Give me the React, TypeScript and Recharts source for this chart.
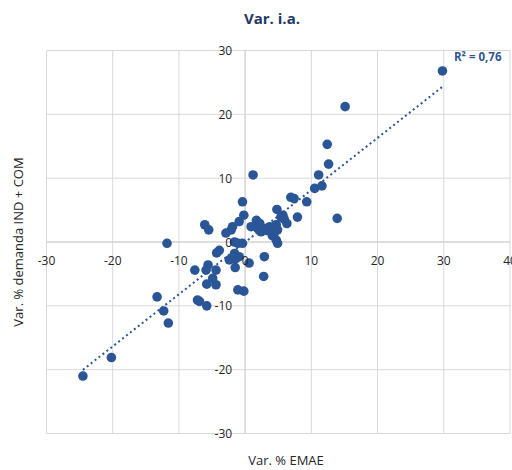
import React from "react";
import { ScatterChart, Scatter, XAxis, YAxis, CartesianGrid, ReferenceLine } from "recharts";

const emaeVar: number[] = [
  -24.5, -20.2, -13.3, -12.3, -11.6, -11.8, -7.6, -7.2, -6.9, -5.8,
  -6.1, -5.5, -5.6, -5.9, -4.4, -4.9, -5.8, -4.4, -3.9, -4.3,
  -2.9, -2.1, -1.9, -0.9, -0.2, -0.4, -1.6, -1.1, -0.4, -1.6,
  -0.9, -1.4, -1.9, -2.4, -1.5, 0.6, -1.1, -0.2, 2.8, 2.9,
  1.2, 1.7, 2.2, 0.9, 1.9, 2.9, 3.7, 3.9, 4.7, 4.9,
  4.4, 4.7, 4.9, 4.8, 5.4, 5.7, 5.9, 6.3, 7.9, 6.9,
  7.4, 9.3, 10.5, 11.6, 11.1, 12.6, 12.4, 15.1, 13.9, 29.8,
  2.4, 3.3, 4.1,
];
const demandVar: number[] = [
  -21.0, -18.1, -8.6, -10.8, -12.7, -0.2, -4.4, -9.1, -9.3, -10.0,
  2.7, 1.9, -3.6, -4.4, -4.4, -5.7, -6.6, -6.7, -1.3, -1.7,
  1.4, 1.9, 2.4, 3.2, 4.2, 6.3, 0.0, -0.2, -0.2, -1.8,
  -2.3, -2.6, -2.6, -2.8, -4.0, -3.3, -7.5, -7.7, -5.4, -2.3,
  10.5, 3.4, 2.9, 2.4, 2.1, 2.1, 2.4, 1.9, 2.7, 1.9,
  1.4, 0.3, -0.2, 5.1, 3.9, 4.2, 3.6, 2.9, 3.9, 7.0,
  6.8, 6.3, 8.4, 8.8, 10.5, 12.2, 15.3, 21.2, 3.7, 26.8,
  1.6, 1.8, 1.0,
];
const xTicks: number[] = [-30, -20, -10, 0, 10, 20, 30, 40];
const yTicks: number[] = [-30, -20, -10, 0, 10, 20, 30];
const titleText = "Var. i.a.";
const xLabel = "Var. % EMAE";
const yLabel = "Var. % demanda IND + COM";
const r2Label = "R² = 0,76";

const data = emaeVar.map((x, i) => ({ x, y: demandVar[i] }));

// least-squares linear trendline from the data
const n = emaeVar.length;
const mx = emaeVar.reduce((a, b) => a + b, 0) / n;
const my = demandVar.reduce((a, b) => a + b, 0) / n;
let sxy = 0;
let sxx = 0;
for (let i = 0; i < n; i++) {
  sxy += (emaeVar[i] - mx) * (demandVar[i] - my);
  sxx += (emaeVar[i] - mx) * (emaeVar[i] - mx);
}
const slope = sxy / sxx;
const intercept = my - slope * mx;
const xMin = Math.min(...emaeVar);
const xMax = Math.max(...emaeVar);

const W = 512;
const H = 470;
const Y_AXIS_W = 40;
const X_AXIS_H = 30;
const M = { top: 50.5, right: 2, bottom: 6.5, left: 6.5 };
const PLOT_LEFT = M.left + Y_AXIS_W;
const PLOT_TOP = M.top;
const PW = W - PLOT_LEFT - M.right;
const PH = H - M.top - M.bottom - X_AXIS_H;
const zeroX = PLOT_LEFT + PW * (30 / 70);
const zeroY = PLOT_TOP + PH / 2;

const FONT = "'Open Sans', 'Liberation Sans', sans-serif";
const DOT = "#2a5597";

const XTick = (props: any) => {
  const { x, payload } = props;
  return (
    <text x={x} y={zeroY + 18} textAnchor="middle" dominantBaseline="central" fontSize={12} fontFamily={FONT} fill="#262626">
      {payload.value}
    </text>
  );
};

const YTick = (props: any) => {
  const { y, payload } = props;
  return (
    <text x={zeroX - 13} y={y} textAnchor="end" dominantBaseline="central" fontSize={12} fontFamily={FONT} fill="#262626">
      {payload.value}
    </text>
  );
};

const Dot = (props: any) => {
  const { cx, cy } = props;
  if (cx == null || cy == null) return null;
  return <circle cx={cx} cy={cy} r={4.8} fill={DOT} />;
};

export default function App() {
  return (
    <div style={{ position: "absolute", left: 0, top: 0, width: W, height: H, background: "#fff" }}>
      <ScatterChart width={W} height={H} margin={M}>
        <CartesianGrid stroke="#d9d9d9" strokeWidth={1} />
        <XAxis
          type="number"
          dataKey="x"
          domain={[-30, 40]}
          ticks={xTicks}
          allowDataOverflow
          height={X_AXIS_H}
          axisLine={false}
          tickLine={false}
          tick={XTick}
          interval={0}
        />
        <YAxis
          type="number"
          dataKey="y"
          domain={[-30, 30]}
          ticks={yTicks}
          allowDataOverflow
          width={Y_AXIS_W}
          axisLine={false}
          tickLine={false}
          tick={YTick}
          interval={0}
        />
        <ReferenceLine x={0} stroke="#d0d0d0" strokeWidth={1} />
        <ReferenceLine y={0} stroke="#d0d0d0" strokeWidth={1} />
        <Scatter data={data} shape={<Dot />} isAnimationActive={false} />
        <ReferenceLine
          segment={[
            { x: xMin, y: slope * xMin + intercept },
            { x: xMax, y: slope * xMax + intercept },
          ]}
          stroke={DOT}
          strokeWidth={2}
          strokeDasharray="2 3"
          ifOverflow="visible"
        />
      </ScatterChart>
      <div style={{ position: "absolute", left: 0, top: 8, width: 544, textAlign: "center", fontFamily: FONT, fontWeight: 700, fontSize: 15, color: "#1f3864" }}>
        {titleText}
      </div>
      <div style={{ position: "absolute", left: 454, top: 49, fontFamily: FONT, fontWeight: 700, fontSize: 11.5, color: "#2f5597", whiteSpace: "nowrap" }}>
        {r2Label}
      </div>
      <div style={{ position: "absolute", left: 186, top: 452, width: 200, textAlign: "center", fontFamily: FONT, fontSize: 13, lineHeight: "16px", color: "#262626" }}>
        {xLabel}
      </div>
      <div style={{ position: "absolute", left: 18, top: 242, transform: "translate(-50%, -50%) rotate(-90deg)", fontFamily: FONT, fontSize: 13, color: "#262626", whiteSpace: "nowrap" }}>
        {yLabel}
      </div>
    </div>
  );
}
